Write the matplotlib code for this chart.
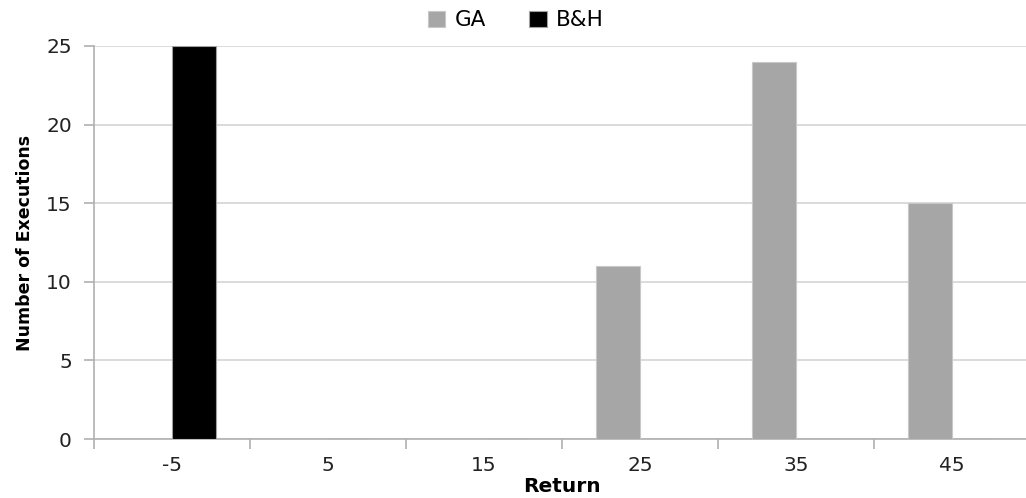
import numpy as np
import matplotlib
matplotlib.use("Agg")
import matplotlib.pyplot as plt

categories = ["-5", "5", "15", "25", "35", "45"]
ga = [0, 0, 0, 11, 24, 15]
bh = [25, 0, 0, 0, 0, 0]

plt.rcParams['font.family'] = ['DejaVu Sans']

fig = plt.figure(figsize=(10.26, 4.98), dpi=100)
ax = fig.add_axes([94 / 1026, 1 - 439 / 498, 936 / 1026, (439 - 46) / 498])

x = np.arange(len(categories))
w = 0.285
ax.bar(x - w / 2, ga, w, color='#a6a6a6', edgecolor='#c8c8c8', linewidth=0.8, label='GA', zorder=3)
ax.bar(x + w / 2, bh, w, color='black', edgecolor='#a0a0a0', linewidth=0.8, label='B&H', zorder=3)

ax.set_xlim(-0.5, len(categories) - 0.5)
ax.set_ylim(0, 25)
ax.set_yticks(range(0, 26, 5))
ax.yaxis.grid(True, color='#d4d4d4', linewidth=1.2, zorder=0)
ax.set_axisbelow(True)

ax.set_xticks(x)
ax.set_xticklabels(categories, fontsize=14.5, color='#222222')
ax.tick_params(axis='x', length=0, pad=12)
ax.set_xticks(np.arange(len(categories) + 1) - 0.5, minor=True)
ax.tick_params(axis='x', which='minor', length=7, color='#b0b0b0', width=1.2)
ax.tick_params(axis='y', labelsize=14.5, length=7, color='#b0b0b0', width=1.2, labelcolor='#222222', pad=9)

for s in ['top', 'right']:
    ax.spines[s].set_visible(False)
for s in ['left', 'bottom']:
    ax.spines[s].set_color('#b0b0b0')
    ax.spines[s].set_linewidth(1.2)

ax.set_xlabel('Return', fontsize=14.5, fontweight='bold', labelpad=2)
ax.set_ylabel('Number of Executions', fontsize=12.5, fontweight='bold', labelpad=9)

leg = fig.legend(loc='upper center', bbox_to_anchor=(0.503, 1.018), ncol=2, frameon=False,
                 fontsize=15.5, handlelength=0.8, handleheight=0.8, handletextpad=0.45, columnspacing=2.0)

fig.savefig('out.png', dpi=100)
